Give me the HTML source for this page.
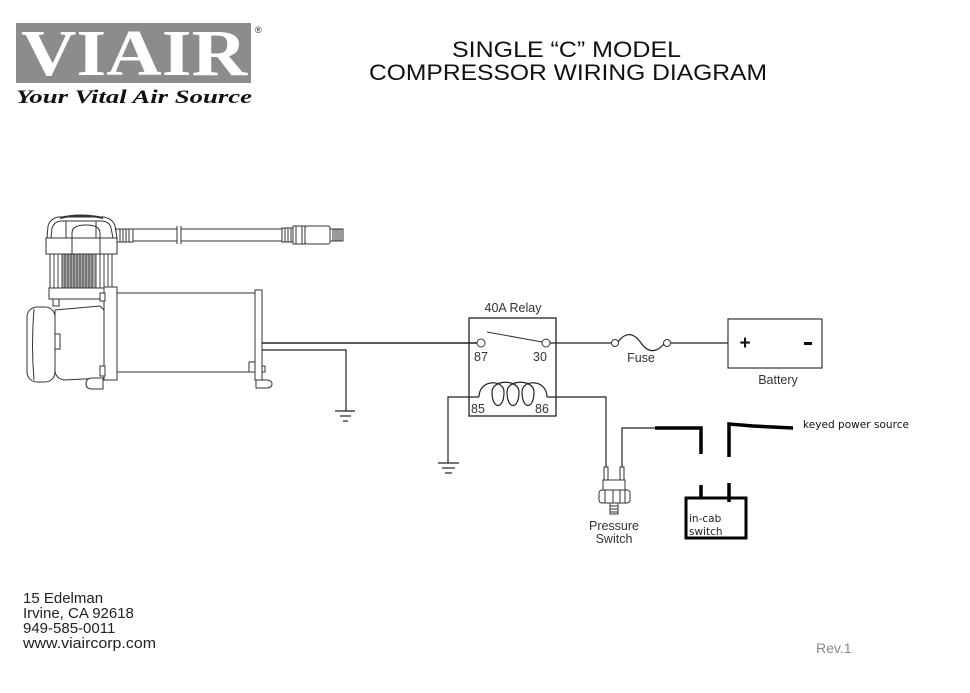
<!DOCTYPE html>
<html>
<head>
<meta charset="utf-8">
<style>
  html,body{margin:0;padding:0;background:#fff;}
  svg{display:block;}
  .s{font-family:"Liberation Sans",Arial,sans-serif;}
</style>
</head>
<body>
<svg width="970" height="693" viewBox="0 0 970 693" xmlns="http://www.w3.org/2000/svg">
  <rect width="970" height="693" fill="#fff"/>

  <!-- Logo -->
  <rect x="16" y="23" width="235" height="60" fill="#8c8c8c"/>
  <text x="21" y="75" font-family="'Liberation Serif',serif" font-weight="bold" font-size="66" fill="#fff" textLength="226" lengthAdjust="spacingAndGlyphs">VIAIR</text>
  <text x="255" y="33" font-family="'Liberation Sans',sans-serif" font-size="9" fill="#222">®</text>
  <text x="16" y="103" font-family="'Liberation Serif',serif" font-weight="bold" font-style="italic" font-size="19" fill="#111" textLength="236" lengthAdjust="spacingAndGlyphs">Your Vital Air Source</text>

  <!-- Title -->
  <text x="452" y="57" class="s" font-size="22.5" fill="#111" textLength="229" lengthAdjust="spacingAndGlyphs">SINGLE “C” MODEL</text>
  <text x="369" y="80" class="s" font-size="22.5" fill="#111" textLength="398" lengthAdjust="spacingAndGlyphs">COMPRESSOR WIRING DIAGRAM</text>

  <!-- Compressor -->
  <g stroke="#333" stroke-width="1" fill="#fff">
    <!-- hose -->
    <rect x="125" y="229" width="158" height="12"/>
    <rect x="177" y="226" width="4" height="18" stroke="none" fill="#fff"/>
    <line x1="177" y1="226" x2="177" y2="244"/>
    <line x1="181" y1="226" x2="181" y2="244"/>
    <!-- knurl near head -->
    <rect x="116" y="229" width="17" height="13"/>
    <line x1="120" y1="229" x2="120" y2="242"/>
    <line x1="123" y1="229" x2="123" y2="242"/>
    <line x1="126" y1="229" x2="126" y2="242"/>
    <line x1="129" y1="229" x2="129" y2="242"/>
    <!-- fitting -->
    <rect x="282" y="228" width="11" height="14"/>
    <line x1="285" y1="228" x2="285" y2="242"/>
    <line x1="288" y1="228" x2="288" y2="242"/>
    <line x1="291" y1="228" x2="291" y2="242"/>
    <rect x="293" y="226" width="12" height="18"/>
    <line x1="296" y1="226" x2="296" y2="244"/>
    <line x1="302" y1="226" x2="302" y2="244"/>
    <rect x="305" y="226" width="25" height="18" rx="2"/>
    <rect x="330" y="229" width="13" height="12"/>
    <line x1="333" y1="229" x2="333" y2="241"/>
    <line x1="335" y1="229" x2="335" y2="241"/>
    <line x1="337" y1="229" x2="337" y2="241"/>
    <line x1="339" y1="229" x2="339" y2="241"/>
    <line x1="341" y1="229" x2="341" y2="241"/>

    <!-- fins -->
    <rect x="50" y="254" width="62" height="34"/>
    <rect x="62" y="254" width="34" height="34" fill="#a8a8a8" stroke="none"/>
    <g stroke="#444">
      <line x1="54" y1="254" x2="54" y2="288"/>
      <line x1="58" y1="254" x2="58" y2="288"/>
      <line x1="62" y1="254" x2="62" y2="288"/>
      <line x1="65" y1="254" x2="65" y2="288"/>
      <line x1="68" y1="254" x2="68" y2="288"/>
      <line x1="71" y1="254" x2="71" y2="288"/>
      <line x1="74" y1="254" x2="74" y2="288"/>
      <line x1="77" y1="254" x2="77" y2="288"/>
      <line x1="80" y1="254" x2="80" y2="288"/>
      <line x1="83" y1="254" x2="83" y2="288"/>
      <line x1="86" y1="254" x2="86" y2="288"/>
      <line x1="89" y1="254" x2="89" y2="288"/>
      <line x1="92" y1="254" x2="92" y2="288"/>
      <line x1="96" y1="254" x2="96" y2="288"/>
      <line x1="100" y1="254" x2="100" y2="288"/>
      <line x1="104" y1="254" x2="104" y2="288"/>
      <line x1="108" y1="254" x2="108" y2="288"/>
    </g>
    <!-- head dome -->
    <path d="M47 238 L48 226 Q50 219 58 217 L104 217 Q113 219 115 226 L117 238 Z"/>
    <path d="M51 238 L52 228 Q54 222 60 221 L102 221 Q110 222 111 228 L113 238" fill="none"/>
    <path d="M60 218 Q80 213 103 218" fill="none" stroke-width="2"/>
    <line x1="66" y1="221" x2="66" y2="238"/>
    <line x1="96" y1="221" x2="96" y2="238"/>
    <rect x="46" y="238" width="71" height="16"/>
    <path d="M72 254 L72 233 Q72 225 86 225 Q100 225 100 233 L100 254" fill="none"/>
    <!-- body under fins -->
    <rect x="49" y="288" width="56" height="11"/>
    <rect x="53" y="299" width="6" height="7"/>
    <!-- motor front body -->
    <path d="M55 310 L100 306 L104 310 L104 378 L64 380 Q55 378 55 370 Z"/>
    <!-- left cap -->
    <rect x="27" y="307" width="28" height="75" rx="10"/>
    <path d="M34 309 Q31 345 34 380" fill="none"/>
    <rect x="55" y="334" width="5" height="15"/>
    <!-- flange plate -->
    <rect x="104" y="287" width="13" height="93"/>
    <rect x="100" y="293" width="5" height="8"/>
    <rect x="100" y="366" width="5" height="10"/>
    <rect x="117" y="295" width="4" height="6"/>
    <rect x="117" y="366" width="4" height="6"/>
    <!-- front foot -->
    <path d="M86 384 Q86 378 92 378 L103 378 L103 389 L92 389 Q86 389 86 384 Z"/>
    <!-- motor cylinder -->
    <rect x="117" y="293" width="138" height="79"/>
    <!-- end plate -->
    <rect x="255" y="290" width="7" height="90"/>
    <rect x="249" y="362" width="6" height="10"/>
    <rect x="262" y="366" width="3" height="6"/>
    <path d="M256 380 L266 380 Q272 380 272 384 Q272 388 266 388 L256 388 Z"/>
  </g>

  <!-- Wires -->
  <g stroke="#222" fill="none">
    <line x1="262" y1="343" x2="477" y2="343" stroke-width="1.6"/>
    <polyline points="262,350 346,350 346,411" stroke-width="1.2"/>
    <line x1="335" y1="411" x2="355" y2="411" stroke-width="1.2"/>
    <line x1="340" y1="416" x2="351" y2="416" stroke-width="1.2"/>
    <line x1="343" y1="421" x2="348" y2="421" stroke-width="1.2"/>
  </g>

  <!-- Relay -->
  <text x="513" y="312" class="s" font-size="12.5" fill="#333" text-anchor="middle">40A Relay</text>
  <rect x="469" y="318" width="87" height="98" fill="none" stroke="#222" stroke-width="1.3"/>
  <g stroke="#333" fill="#fff" stroke-width="1">
    <circle cx="481" cy="343" r="4"/>
    <circle cx="546" cy="343" r="4"/>
    <line x1="487" y1="332" x2="542" y2="342"/>
  </g>
  <text x="474" y="361" class="s" font-size="12.5" fill="#333">87</text>
  <text x="533" y="361" class="s" font-size="12.5" fill="#333">30</text>
  <text x="471" y="413" class="s" font-size="12.5" fill="#333">85</text>
  <text x="535" y="413" class="s" font-size="12.5" fill="#333">86</text>
  <g stroke="#222" fill="none" stroke-width="1.2">
    <path d="M479 397 C479 379, 504 379, 504 392 C504 410, 492 410, 492 392 C492 379, 519 379, 519 392 C519 410, 507 410, 507 392 C507 379, 534 379, 534 392 C534 410, 522 410, 522 392 C522 379, 547 379, 547 397"/>
    <polyline points="479,397 448,397 448,463"/>
    <line x1="438" y1="463" x2="459" y2="463"/>
    <line x1="442" y1="468" x2="455" y2="468"/>
    <line x1="445" y1="473" x2="452" y2="473"/>
    <polyline points="547,397 606,397 606,468"/>
    <polyline points="622,468 622,428 655,428"/>
    <!-- to fuse -->
    <line x1="550" y1="343" x2="612" y2="343"/>
    <path d="M618 342 C626 331, 634 333, 641 343 S 656 353, 664 344"/>
    <line x1="671" y1="343" x2="728" y2="343"/>
  </g>
  <g stroke="#333" fill="#fff" stroke-width="1">
    <circle cx="615" cy="343" r="3.5"/>
    <circle cx="667" cy="343" r="3.5"/>
  </g>
  <text x="641" y="362" class="s" font-size="12.5" fill="#333" text-anchor="middle">Fuse</text>

  <!-- Battery -->
  <rect x="728" y="319" width="94" height="49" fill="#fff" stroke="#333" stroke-width="1.2"/>
  <text x="745" y="349" class="s" font-size="19" font-weight="bold" fill="#111" text-anchor="middle">+</text>
  <rect x="804" y="342" width="8" height="3" fill="#111"/>
  <text x="778" y="384" class="s" font-size="12.5" fill="#333" text-anchor="middle">Battery</text>

  <!-- Pressure switch -->
  <g stroke="#333" fill="#fff" stroke-width="1">
    <rect x="604" y="467" width="4" height="13"/>
    <rect x="620" y="467" width="4" height="13"/>
    <rect x="603" y="480" width="22" height="10"/>
    <rect x="599" y="490" width="31" height="13" rx="3"/>
    <line x1="605" y1="490" x2="605" y2="503"/>
    <line x1="613" y1="490" x2="613" y2="503"/>
    <line x1="620" y1="490" x2="620" y2="503"/>
    <line x1="625" y1="490" x2="625" y2="503"/>
    <rect x="610" y="503" width="8" height="11"/>
    <line x1="610" y1="506" x2="618" y2="506"/>
    <line x1="610" y1="509" x2="618" y2="509"/>
    <line x1="610" y1="512" x2="618" y2="512"/>
  </g>
  <text x="614" y="530" class="s" font-size="12.5" fill="#333" text-anchor="middle">Pressure</text>
  <text x="614" y="543" class="s" font-size="12.5" fill="#333" text-anchor="middle">Switch</text>

  <!-- In-cab switch wiring (thick) -->
  <g stroke="#000" fill="none" stroke-width="3.5">
    <polyline points="655,428 701,428 701,454"/>
    <line x1="701" y1="485" x2="701" y2="498"/>
    <polyline points="793,428 753,426 729,424 729,457"/>
    <line x1="729" y1="483" x2="729" y2="502"/>
  </g>
  <rect x="686" y="498" width="60" height="40" fill="none" stroke="#000" stroke-width="3"/>
  <text x="689" y="522" font-family="'DejaVu Sans',sans-serif" font-size="10.5" fill="#222">in-cab</text>
  <text x="689" y="535" font-family="'DejaVu Sans',sans-serif" font-size="10.5" fill="#222">switch</text>
  <text x="803" y="428" font-family="'DejaVu Sans',sans-serif" font-size="10.5" fill="#111" textLength="106" lengthAdjust="spacingAndGlyphs">keyed power source</text>

  <!-- Address -->
  <g class="s" font-size="15" fill="#222">
    <text x="23" y="603">15 Edelman</text>
    <text x="23" y="618">Irvine, CA 92618</text>
    <text x="23" y="633">949-585-0011</text>
    <text x="23" y="648" textLength="133" lengthAdjust="spacingAndGlyphs">www.viaircorp.com</text>
  </g>
  <text x="816" y="653" class="s" font-size="14" fill="#888">Rev.1</text>
</svg>
</body>
</html>
